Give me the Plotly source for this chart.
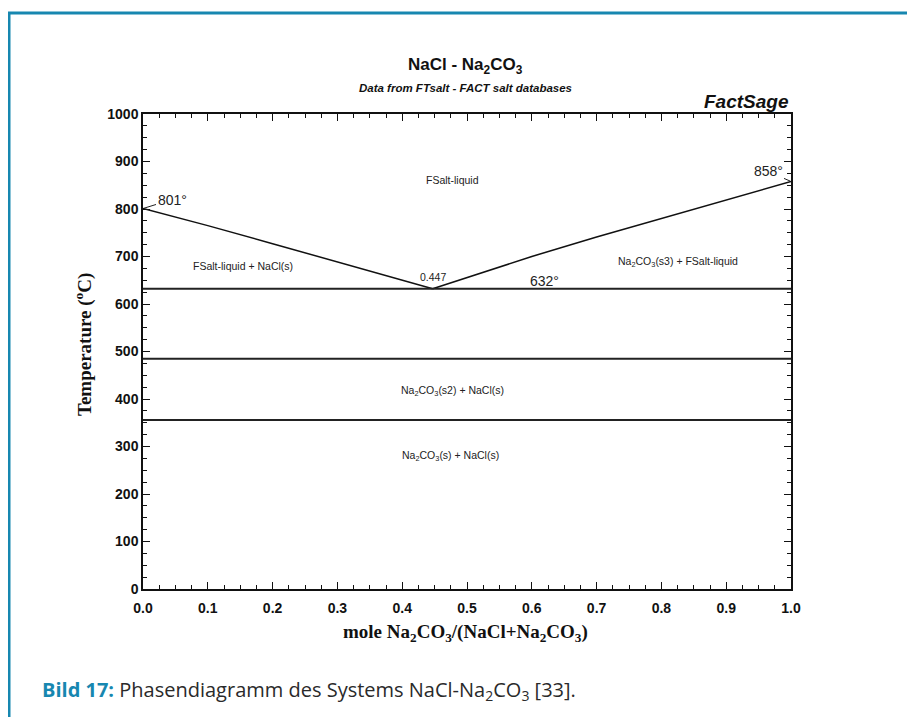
import plotly.graph_objects as go

# ---- data ----
liq_left_x = [0.0, 0.10, 0.20, 0.30, 0.40, 0.447]
liq_left_t = [801, 765, 727, 688, 650, 632]
liq_right_x = [0.447, 0.50, 0.60, 0.70, 0.80, 0.90, 1.0]
liq_right_t = [632, 656, 700, 741, 780, 819, 858]
iso_temps = [632, 485, 356]
x_ticks = [0.0, 0.1, 0.2, 0.3, 0.4, 0.5, 0.6, 0.7, 0.8, 0.9, 1.0]
y_ticks = [0, 100, 200, 300, 400, 500, 600, 700, 800, 900, 1000]

region_labels = ["FSalt-liquid", "FSalt-liquid + NaCl(s)",
                 "Na<sub>2</sub>CO<sub>3</sub>(s3) + FSalt-liquid",
                 "Na<sub>2</sub>CO<sub>3</sub>(s2) + NaCl(s)",
                 "Na<sub>2</sub>CO<sub>3</sub>(s) + NaCl(s)"]
region_x = [0.477, 0.154, 0.826, 0.478, 0.474]
region_t = [861, 680, 688, 417, 280]

BLUE = "#1787b0"
SANS = "Liberation Sans"
SERIF = "Liberation Serif"

fig = go.Figure()
fig.add_trace(go.Scatter(x=liq_left_x, y=liq_left_t, mode="lines",
                         line=dict(color="#111", width=1.5), hoverinfo="skip"))
fig.add_trace(go.Scatter(x=liq_right_x, y=liq_right_t, mode="lines",
                         line=dict(color="#111", width=1.5), hoverinfo="skip"))
for t in iso_temps:
    fig.add_trace(go.Scatter(x=[0, 1], y=[t, t], mode="lines",
                             line=dict(color="#222", width=2), hoverinfo="skip"))

ann = []
for lab, x, t in zip(region_labels, region_x, region_t):
    ann.append(dict(x=x, y=t, xref="x", yref="y", text=lab, showarrow=False,
                    font=dict(family=SANS, size=10.5, color="#222")))
# special labels
ann.append(dict(x=0.447, y=657, xref="x", yref="y", text="0.447", showarrow=False,
                font=dict(family=SANS, size=10.5, color="#222")))
ann.append(dict(x=0.62, y=649, xref="x", yref="y", text="632°", showarrow=False,
                font=dict(family=SANS, size=14, color="#222")))
ann.append(dict(x=liq_left_x[0], y=liq_left_t[0], xref="x", yref="y", text="801°",
                showarrow=True, arrowhead=0, arrowwidth=1, arrowcolor="#222",
                ax=29, ay=-9, standoff=1,
                font=dict(family=SANS, size=14, color="#222")))
ann.append(dict(x=liq_right_x[-1], y=liq_right_t[-1], xref="x", yref="y", text="858°",
                showarrow=True, arrowhead=0, arrowwidth=1, arrowcolor="#222",
                ax=-23, ay=-10, standoff=1,
                font=dict(family=SANS, size=14, color="#222")))


def paper_text(x, y, text, font, **kw):
    d = dict(x=x, y=y, xref="paper", yref="paper", text=text, showarrow=False,
             xanchor="center", yanchor="middle", font=font)
    d.update(kw)
    return d


# titles (paper coordinates measured relative to the plot area)
ann.append(paper_text(0.498, (589 - 66) / 475, "NaCl - Na<sub>2</sub>CO<sub>3</sub>",
                      dict(family=SANS, size=17, color="#111", weight="bold")))
ann.append(paper_text(0.498, (589 - 88) / 475, "<i>Data from FTsalt - FACT salt databases</i>",
                      dict(family=SANS, size=11.5, color="#111", weight="bold")))
ann.append(paper_text(1.0, (589 - 102) / 475, "<i>FactSage</i>",
                      dict(family=SANS, size=19, color="#111", weight="bold"),
                      xanchor="right"))
ann.append(paper_text((83 - 143) / 648, (589 - 345) / 475, "Temperature (<sup>o</sup>C)",
                      dict(family=SERIF, size=19, color="#111", weight="bold"),
                      textangle=-90))
ann.append(paper_text(0.498, (589 - 633) / 475,
                      "mole Na<sub>2</sub>CO<sub>3</sub>/(NaCl+Na<sub>2</sub>CO<sub>3</sub>)",
                      dict(family=SERIF, size=19, color="#111", weight="bold")))
ann.append(paper_text((40 - 143) / 648, (589 - 690) / 475,
                      "<b><span style='color:%s'>Bild 17:</span></b> Phasendiagramm des Systems NaCl-Na<sub>2</sub>CO<sub>3</sub> [33]." % BLUE,
                      dict(family="Open Sans", size=20, color="#2a2a2a"),
                      xanchor="left"))

axis_common = dict(showline=True, linecolor="#111", linewidth=1.5, mirror="ticks",
                   ticks="inside", ticklen=7, tickwidth=1.2, tickcolor="#111",
                   showgrid=False, zeroline=False,
                   tickfont=dict(family=SANS, size=14, color="#111", weight="bold"))

fig.update_layout(
    width=907, height=709,
    margin=dict(l=135, r=124, t=106, b=128),
    paper_bgcolor="white", plot_bgcolor="white",
    showlegend=False,
    xaxis=dict(range=[0, 1], tickvals=x_ticks, ticktext=["%.1f" % v for v in x_ticks],
               ticklabelstandoff=5,
               minor=dict(ticks="inside", ticklen=4, dtick=0.025, tickcolor="#111"),
               **axis_common),
    yaxis=dict(range=[0, 1000], tickvals=y_ticks,
               minor=dict(ticks="inside", ticklen=4, dtick=25, tickcolor="#111"),
               **axis_common),
    annotations=ann,
    shapes=[dict(type="rect", xref="paper", yref="paper",
                 x0=(9 - 143) / 648, x1=(912 - 143) / 648,
                 y0=(589 - 740) / 475, y1=(589 - 13) / 475,
                 line=dict(color=BLUE, width=3), layer="below")],
)

fig.write_html("out.html")
